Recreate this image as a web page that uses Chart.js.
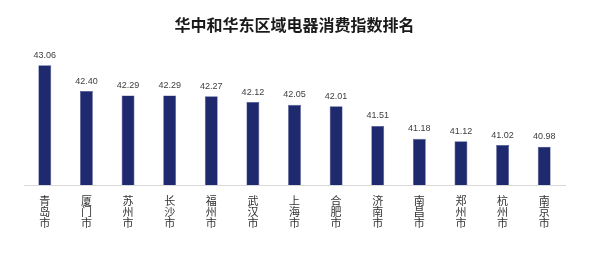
<!DOCTYPE html>
<html>
<head>
<meta charset="utf-8">
<script src="https://cdn.jsdelivr.net/npm/chart.js@4/dist/chart.umd.min.js"></script>
<style>
html,body{margin:0;padding:0;background:#fff;}
#wrap{width:596px;height:258px;position:relative;}
</style>
</head>
<body>
<div id="wrap"><canvas id="c" width="596" height="258"></canvas></div>
<script>
const titleText = '华中和华东区域电器消费指数排名';
const cities = ['青岛市','厦门市','苏州市','长沙市','福州市','武汉市','上海市','合肥市','济南市','南昌市','郑州市','杭州市','南京市'];
const values = [43.06, 42.40, 42.29, 42.29, 42.27, 42.12, 42.05, 42.01, 41.51, 41.18, 41.12, 41.02, 40.98];
const yMin = 40;
const yMax = 43.65;

const valueLabels = {
  id: 'valueLabels',
  afterDatasetsDraw(chart) {
    const ctx = chart.ctx;
    const meta = chart.getDatasetMeta(0);
    ctx.save();
    ctx.font = '9px "Liberation Sans", Arial, sans-serif';
    ctx.fillStyle = '#404040';
    ctx.textAlign = 'center';
    ctx.textBaseline = 'alphabetic';
    meta.data.forEach((bar, i) => {
      ctx.fillText(values[i].toFixed(2), bar.x, bar.y - 7.5);
    });
    ctx.restore();
  }
};

new Chart(document.getElementById('c'), {
  type: 'bar',
  data: {
    labels: cities.map(c => c.split('')),
    datasets: [{
      data: values,
      backgroundColor: '#1f2a6e',
      borderColor: '#4a5596',
      borderWidth: {left: 0.6, right: 0.6, top: 0.6, bottom: 0},
      barPercentage: 0.31,
      categoryPercentage: 1
    }]
  },
  options: {
    responsive: false,
    animation: false,
    devicePixelRatio: 1,
    layout: { padding: { left: 24, right: 31, top: 0, bottom: 27 } },
    plugins: {
      legend: { display: false },
      tooltip: { enabled: false },
      title: {
        display: true,
        text: titleText,
        color: '#1a1a1a',
        font: { family: '"Noto Sans CJK SC", sans-serif', size: 16, weight: 'bold' },
        padding: { top: 15, bottom: 8 }
      }
    },
    scales: {
      x: {
        grid: { display: false },
        border: { display: true, color: '#d9d9d9', width: 1 },
        ticks: {
          color: '#333333',
          font: { family: '"Noto Sans CJK SC", sans-serif', size: 11, lineHeight: 1.0 },
          padding: 2.5,
          maxRotation: 0,
          autoSkip: false
        }
      },
      y: {
        display: false,
        min: yMin,
        max: yMax
      }
    }
  },
  plugins: [valueLabels]
});
</script>
</body>
</html>
